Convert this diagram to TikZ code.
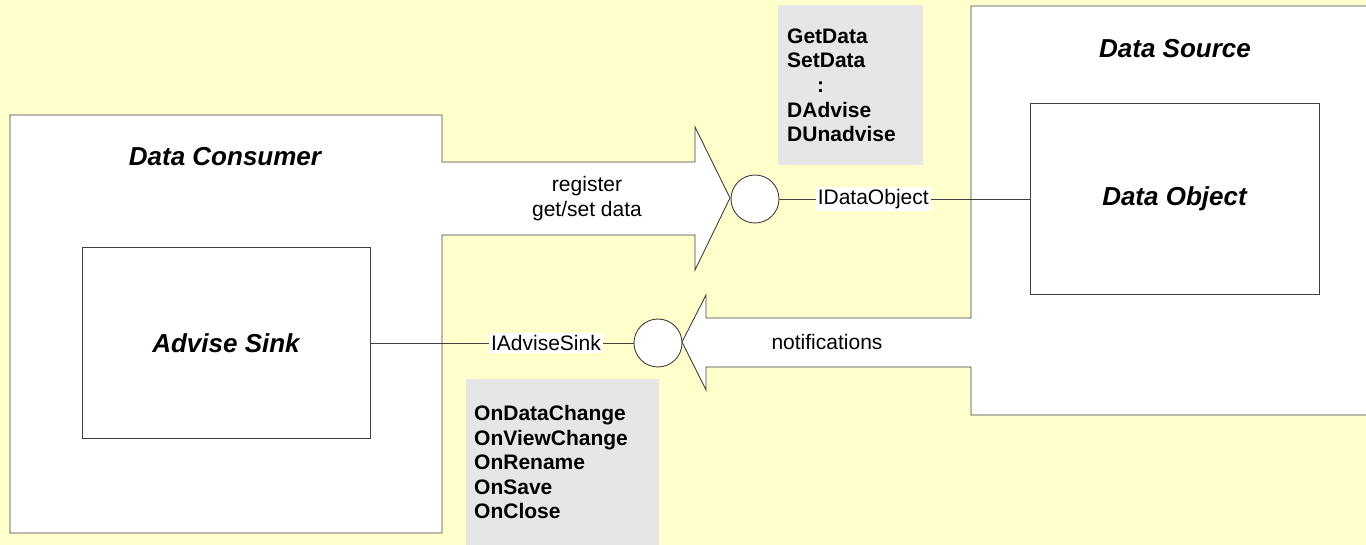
\documentclass[tikz,border=0pt]{standalone}
\usepackage{fontspec}
\setmainfont{Liberation Sans}
\definecolor{paper}{HTML}{FFFFCC}
\definecolor{panel}{HTML}{E6E6E6}
\definecolor{ink}{HTML}{404040}

\begin{document}
\begin{tikzpicture}[x=1pt,y=-1pt,
  edge/.style={draw=ink, line width=0.9pt},
  box/.style={edge, fill=white, rectangle, inner sep=0pt},
  title/.style={font=\fontsize{26}{30}\selectfont\bfseries\itshape},
  plain/.style={font=\fontsize{21}{25}\selectfont},
  port/.style={edge, circle, fill=white, minimum size=48pt, inner sep=0pt},
  iface/.style={plain, fill=white, inner sep=2pt},
  methods/.style={fill=panel, rectangle, align=left, anchor=north west,
    font=\fontsize{21}{24.6}\selectfont\bfseries, inner ysep=0pt}
]
% canvas
\fill[paper] (0,0) rectangle (1366,545);
\useasboundingbox (0,0) rectangle (1366,545);
\clip (0,0) rectangle (1366,545);

% data source outline with the incoming notification arrow
\draw[edge, fill=white] (971,6) -- (1372,6) -- (1372,415) -- (971,415)
  -- (971,367) -- (706,367) -- (706,390) -- (682,342) -- (706,295)
  -- (706,318) -- (971,318) -- cycle;

% data consumer outline with the outgoing request arrow
\draw[edge, fill=white] (10,115) -- (442,115) -- (442,162) -- (695,162)
  -- (695,127) -- (730,198) -- (695,270) -- (695,235) -- (442,235)
  -- (442,533) -- (10,533) -- cycle;

% titles and arrow captions
\node[title] (consumer) at (225,157) {Data Consumer};
\node[title] (source) at (1175,49) {Data Source};
\node[plain, align=center] (reg) at (587,199) {register\\get/set data};
\node[plain] (notif) at (827,342) {notifications};

% inner objects
\node[box, title, minimum width=288pt, minimum height=191pt] (sink) at (226,343) {Advise Sink};
\node[box, title, minimum width=289pt, minimum height=191pt] (dobj) at (1174.5,199) {Data Object};

% interface lollipops
\node[port] (pdo) at (755,199) {};
\node[port] (pas) at (658,343) {};

\draw[edge] (pdo.east) -- node[iface, pos=0.375] {IDataObject} (dobj.west);
\draw[edge] (sink.east) -- node[iface, pos=0.667] {IAdviseSink} (pas.west);

% method lists
\node[methods, minimum width=145pt, minimum height=160pt, text width=127pt, inner xsep=9pt]
  (domethods) at (778,5) {GetData\\SetData\\\hspace*{30pt}:\\DAdvise\\DUnadvise};
\node[methods, minimum width=193pt, minimum height=166pt, text width=177pt, inner xsep=8pt]
  (sinkmethods) at (466,379) {OnDataChange\\OnViewChange\\OnRename\\OnSave\\OnClose};
\end{tikzpicture}
\end{document}
